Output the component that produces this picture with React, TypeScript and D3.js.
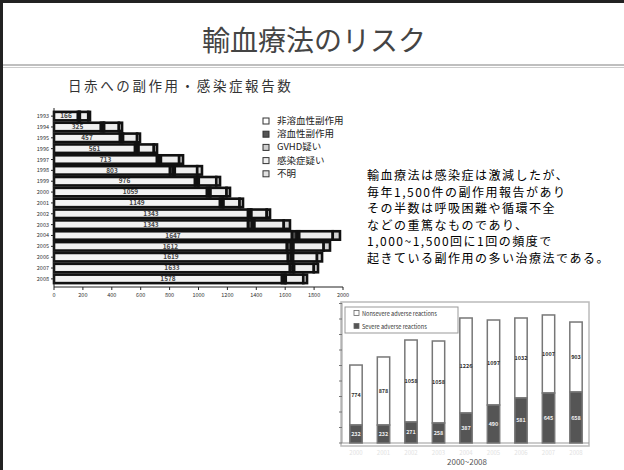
import React from 'react';
import * as d3 from 'd3';

// ---- Left chart data (日赤への副作用・感染症報告数) ----
const years = ['1993','1994','1995','1996','1997','1998','1999','2000','2001','2002','2003','2004','2005','2006','2007','2008'];
const nonHemolytic = [166, 325, 457, 561, 713, 803, 976, 1059, 1149, 1343, 1343, 1647, 1612, 1619, 1633, 1578];
const hemolytic = [9, 15, 14, 16, 18, 22, 17, 16, 16, 15, 29, 33, 30, 24, 19, 17];
const gvhd = [4, 7, 7, 8, 9, 11, 9, 8, 8, 8, 15, 17, 15, 12, 10, 9];
const infection = [58, 102, 97, 106, 126, 155, 121, 111, 111, 106, 203, 232, 209, 165, 136, 121];
const other = [12, 22, 20, 22, 27, 33, 26, 24, 24, 23, 43, 50, 44, 35, 29, 26];
const legendLabels = ['非溶血性副作用', '溶血性副作用', 'GVHD疑い', '感染症疑い', '不明'];
const xTicks = [0, 200, 400, 600, 800, 1000, 1200, 1400, 1600, 1800, 2000];

// ---- Right chart data (2000~2008) ----
const barYears = ['2000','2001','2002','2003','2004','2005','2006','2007','2008'];
const nonsevere = [774, 878, 1058, 1058, 1226, 1097, 1032, 1007, 903];
const severe = [232, 232, 271, 258, 387, 490, 581, 645, 658];
const barLegend = ['Nonsevere adverse reactions', 'Severe adverse reactions'];
const yTicks = [0, 200, 400, 600, 800, 1000, 1200, 1400, 1600, 1800];

const bodyLines = [
  '輸血療法は感染症は激減したが、',
  '毎年1,500件の副作用報告があり',
  'その半数は呼吸困難や循環不全',
  'などの重篤なものであり、',
  '1,000~1,500回に1回の頻度で',
  '起きている副作用の多い治療法である。',
];

const FONT = '"Noto Sans CJK JP", "Noto Sans", sans-serif';

export default function App() {
  // left chart
  const keys = ['a', 'b', 'c', 'd', 'e'];
  const rows = years.map((y, i) => ({
    year: y, a: nonHemolytic[i], b: hemolytic[i], c: gvhd[i], d: infection[i], e: other[i],
  }));
  const stack = d3.stack<any>().keys(keys)(rows);
  const x = d3.scaleLinear().domain([0, 2000]).range([54, 343]);
  const y = d3.scaleBand().domain(years).range([109.5, 285.5]).padding(0.22);
  const fills = ['#f2f2f2', '#4d4d4d', '#dedede', '#eeeeee', '#d4d4d4'];
  const legendFills = ['#ffffff', '#555555', '#cfcfcf', '#eeeeee', '#e2e2e2'];

  // right chart
  const xb = d3.scaleBand().domain(barYears).range([342.25, 589.75]).paddingInner(0.55).paddingOuter(0.275);
  const yb = d3.scaleLinear().domain([0, 1800]).range([443, 303.5]);

  return (
    <svg width={624} height={470} style={{ position: 'absolute', left: 0, top: 0, background: '#fff' }} fontFamily={FONT}>
      <rect x={0} y={0} width={624} height={470} fill="#fff" />
      {/* frame */}
      <line x1={0} y1={1.5} x2={624} y2={1.5} stroke="#222" strokeWidth={3} />
      <line x1={1.5} y1={0} x2={1.5} y2={470} stroke="#222" strokeWidth={3} />

      {/* title */}
      <text x={314} y={51} textAnchor="middle" fontSize={28} fill="#444">輸血療法のリスク</text>
      <line x1={3} x2={624} y1={65} y2={65} stroke="#aaa" strokeWidth={1.5} />
      <line x1={3} x2={624} y1={67.5} y2={67.5} stroke="#ccc" strokeWidth={1} />

      <text x={68} y={91} fontSize={13.5} letterSpacing={2.6} fill="#333">日赤への副作用・感染症報告数</text>

      {/* left chart */}
      <g>
        {stack.map((s, si) => (
          <g key={si}>
            {s.map((d, i) => (
              <rect key={i} x={x(d[0])} y={y(years[i])!} width={x(d[1]) - x(d[0])} height={y.bandwidth()}
                fill={fills[si]} stroke="#111" strokeWidth={2.6} />
            ))}
          </g>
        ))}
        {rows.map((r, i) => (
          <text key={i} x={x(r.a / 2)} y={y(r.year)! + y.bandwidth() / 2 + 2.2} textAnchor="middle"
            fontSize={6.5} fontWeight="bold" fill="#444">{r.a}</text>
        ))}
        <line x1={54} x2={54} y1={108} y2={287} stroke="#222" strokeWidth={1} />
        {years.map((yr) => (
          <g key={yr}>
            <line x1={51} x2={54} y1={y(yr)! + y.bandwidth() / 2} y2={y(yr)! + y.bandwidth() / 2} stroke="#222" />
            <text x={49} y={y(yr)! + y.bandwidth() / 2 + 2} textAnchor="end" fontSize={5.5} fill="#333">{yr}</text>
          </g>
        ))}
        <line x1={54} x2={343} y1={287} y2={287} stroke="#222" strokeWidth={1} />
        {xTicks.map((t) => (
          <g key={t}>
            <line x1={x(t)} x2={x(t)} y1={287} y2={290} stroke="#222" />
            <text x={x(t)} y={297} textAnchor="middle" fontSize={5.5} fill="#333">{t}</text>
          </g>
        ))}
        {/* legend */}
        {legendLabels.map((l, i) => (
          <g key={l}>
            <rect x={263} y={118 + i * 13.2} width={6} height={6} fill={legendFills[i]} stroke="#333" strokeWidth={1} />
            <text x={277} y={124 + i * 13.2} fontSize={9.5} fill="#222">{l}</text>
          </g>
        ))}
      </g>

      {/* body text */}
      {bodyLines.map((l, i) => (
        <text key={i} x={367} y={180 + i * 16.6} fontSize={12} letterSpacing={1.5} fill="#000">{l}</text>
      ))}

      {/* right chart */}
      <g>
        <rect x={341} y={302} width={248} height={144} fill="#fff" stroke="#bbb" strokeWidth={1.5} />
        <line x1={342} x2={342} y1={303} y2={443} stroke="#999" strokeWidth={1} />
        {yTicks.map((t) => (
          <line key={t} x1={339} x2={342} y1={yb(t)} y2={yb(t)} stroke="#777" />
        ))}
        <line x1={342} x2={589} y1={443} y2={443} stroke="#999" strokeWidth={1} />
        {barYears.map((yr, i) => {
          const bx = xb(yr)!;
          const bw = xb.bandwidth();
          return (
            <g key={yr}>
              <rect x={bx} y={yb(severe[i] + nonsevere[i])} width={bw} height={yb(severe[i]) - yb(severe[i] + nonsevere[i])}
                fill="#fff" stroke="#777" strokeWidth={1.5} />
              <rect x={bx} y={yb(severe[i])} width={bw} height={yb(0) - yb(severe[i])}
                fill="#555" stroke="#777" strokeWidth={1.5} />
              <text x={bx + bw / 2} y={yb(severe[i] + nonsevere[i] / 2) + 2} textAnchor="middle" fontSize={5.5} fontWeight="bold" fill="#333">{nonsevere[i]}</text>
              <text x={bx + bw / 2} y={yb(severe[i] / 2) + 2} textAnchor="middle" fontSize={5.5} fontWeight="bold" fill="#eee">{severe[i]}</text>
              <text x={bx + bw / 2} y={455} textAnchor="middle" fontSize={6} fill="#e2e2e2">{yr}</text>
            </g>
          );
        })}
        <rect x={345} y={307} width={113} height={26} fill="#fff" stroke="#999" strokeWidth={1} />
        {barLegend.map((l, i) => (
          <g key={l}>
            <rect x={354} y={310.5 + i * 13} width={5} height={5} fill={i === 0 ? '#fff' : '#555'} stroke="#666" strokeWidth={0.8} />
            <text x={362} y={315.5 + i * 13} fontSize={5.6} fill="#333">{l}</text>
          </g>
        ))}
        <text x={467} y={465} textAnchor="middle" fontSize={8} fill="#555">2000~2008</text>
      </g>
    </svg>
  );
}
